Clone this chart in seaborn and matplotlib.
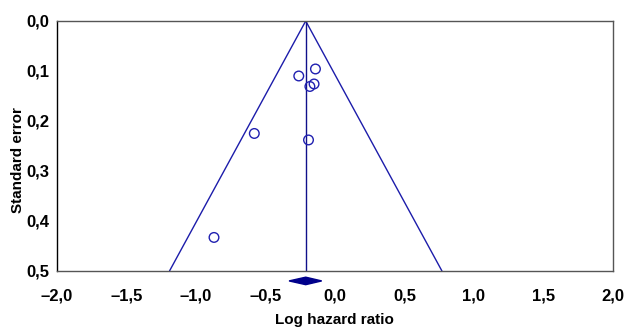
import numpy as np
import matplotlib
matplotlib.use("Agg")
import matplotlib.pyplot as plt
import seaborn as sns
from matplotlib.ticker import FuncFormatter

# studies (log hazard ratio, standard error)
log_hr = [-0.26, -0.14, -0.18, -0.15, -0.58, -0.19, -0.87]
std_err = [0.110, 0.096, 0.131, 0.126, 0.225, 0.238, 0.433]

# pooled estimate and its confidence interval
pooled = -0.21
ci_low = -0.33
ci_high = -0.095

x_ticks = [-2.0, -1.5, -1.0, -0.5, 0.0, 0.5, 1.0, 1.5, 2.0]
y_ticks = [0.0, 0.1, 0.2, 0.3, 0.4, 0.5]

sns.set_style("white", {'text.color': 'black', 'axes.labelcolor': 'black',
                        'xtick.color': 'black', 'ytick.color': 'black'})
plt.rcParams['font.family'] = ['Liberation Sans', 'DejaVu Sans']
plt.rcParams['font.weight'] = 'bold'

fig = plt.figure(figsize=(6.26, 3.28), dpi=100)
ax = fig.add_axes([0.091, 0.174, 0.888, 0.762])

line_col = '#1c1caa'
se_max = 0.5
ax.plot([pooled - 1.96 * se_max, pooled, pooled + 1.96 * se_max], [se_max, 0, se_max],
        color=line_col, lw=1.0)
ax.plot([pooled, pooled], [0, se_max], color='#10108a', lw=1.0)

sns.scatterplot(x=log_hr, y=std_err, ax=ax, marker='o', s=48,
                facecolor='none', edgecolor='#2020b0', linewidth=1.0, zorder=3)

# pooled diamond below axis
yd = 0.52
hd = 0.0075
ax.fill([ci_low, pooled, ci_high, pooled], [yd, yd - hd, yd, yd + hd],
        color='#00008b', clip_on=False, zorder=4)

ax.set_xlim(-2.0, 2.0)
ax.set_ylim(0.5, 0.0)
ax.set_xticks(x_ticks)
ax.set_yticks(y_ticks)

fmt = FuncFormatter(lambda v, p: f"{v:.1f}".replace('.', ',').replace('-', '\u2013'))
ax.xaxis.set_major_formatter(fmt)
ax.yaxis.set_major_formatter(fmt)

ax.tick_params(axis='x', direction='inout', length=5, width=0.8, color='#555555',
               labelcolor='black', labelsize=12, pad=10)
ax.tick_params(axis='y', direction='inout', length=3, width=0.8, color='#555555',
               labelcolor='black', labelsize=12, pad=4)
for lab in ax.get_xticklabels() + ax.get_yticklabels():
    lab.set_fontweight('bold')

for side in ['top', 'right', 'bottom']:
    ax.spines[side].set_color('#555555')
    ax.spines[side].set_linewidth(1.0)
ax.spines['left'].set_color('black')
ax.spines['left'].set_linewidth(1.0)

ax.set_xlabel('Log hazard ratio', fontsize=11, fontweight='bold', labelpad=7, color='black')
ax.set_ylabel('Standard error', fontsize=11, fontweight='bold', color='black')
ax.yaxis.set_label_coords(-0.070, 0.444)
ax.yaxis.label.set_verticalalignment('center')

fig.savefig('out.png', dpi=100)
